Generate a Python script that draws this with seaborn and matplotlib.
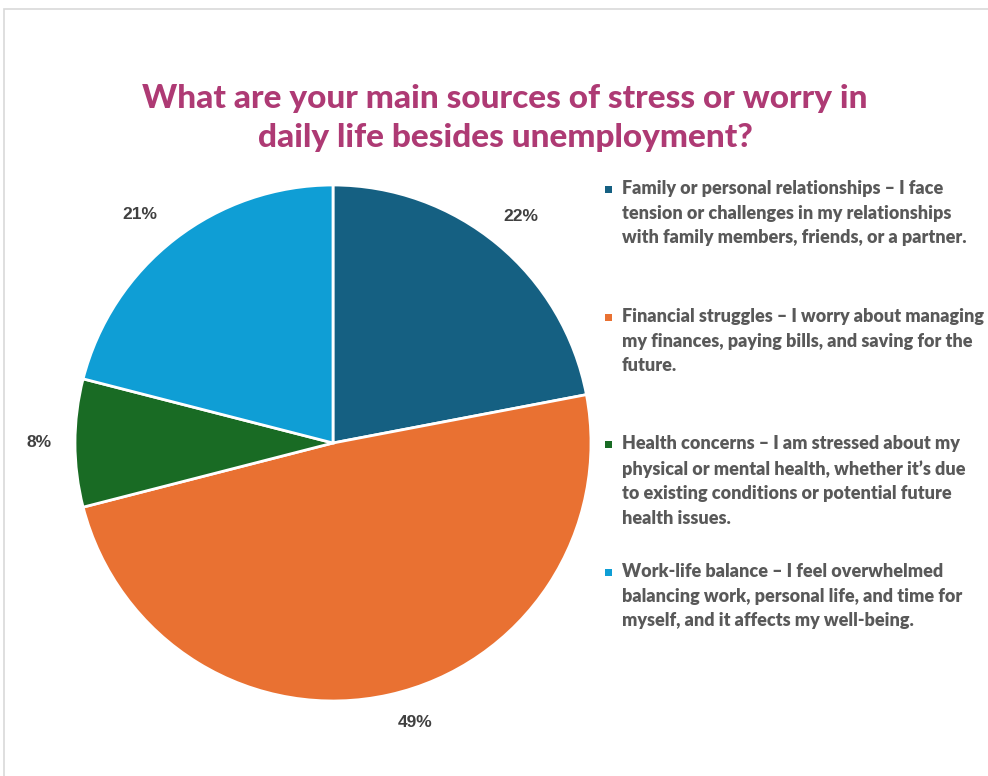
import matplotlib
matplotlib.use("Agg")
import matplotlib.pyplot as plt
from matplotlib.patches import Rectangle
import seaborn as sns

# Survey answers
categories = [
    "Family or personal relationships \u2013 I face\ntension or challenges in my relationships\nwith family members, friends, or a partner.",
    "Financial struggles \u2013 I worry about managing\nmy finances, paying bills, and saving for the\nfuture.",
    "Health concerns \u2013 I am stressed about my\nphysical or mental health, whether it\u2019s due\nto existing conditions or potential future\nhealth issues.",
    "Work-life balance \u2013 I feel overwhelmed\nbalancing work, personal life, and time for\nmyself, and it affects my well-being.",
]
shares = [22, 49, 8, 21]
colors = ["#156082", "#E97132", "#196B24", "#0F9ED5"]
title = "What are your main sources of stress or worry in\ndaily life besides unemployment?"

sns.set_theme(style="white")
palette = sns.color_palette(colors)

W, H = 988, 776
fig = plt.figure(figsize=(W / 100, H / 100), dpi=100)
fig.patch.set_facecolor("white")

# light frame around the chart area
fig.patches.append(Rectangle((4 / W, -0.05), 1.2, (H - 9) / H + 0.05,
                             transform=fig.transFigure, fill=False,
                             edgecolor="#d9d9d9", linewidth=1.2))

cx, cy, r = 333, 443, 258
ax = fig.add_axes([(cx - r) / W, (H - cy - r) / H, 2 * r / W, 2 * r / H])
wedges, texts = ax.pie(
    shares,
    labels=[f"{v}%" for v in shares],
    colors=palette,
    startangle=90,
    counterclock=False,
    labeldistance=1.14,
    wedgeprops=dict(edgecolor="white", linewidth=2),
    textprops=dict(fontsize=12.5, color="#404040", fontweight="bold",
                   family=["Liberation Sans Narrow", "Liberation Sans"]),
)
for t in texts:
    t.set_ha("center")
    t.set_va("center")
    t.set_clip_on(False)
# outside-end placement for the two labels that sit off the mid-angle ray
texts[1].set_position((0.318, -1.085))
texts[3].set_position((-0.748, 0.884))
ax.set_xlim(-1, 1)
ax.set_ylim(-1, 1)
ax.set_aspect("equal")
ax.axis("off")

fig.text(505 / W, 1 - 118 / H, title, ha="center", va="center",
         fontsize=24, fontweight="black", color="#AE3A74",
         family=["Lato", "DejaVu Sans"], linespacing=1.4)

# legend entries
first_line_y = [189, 317, 444, 572]
for label, col, y in zip(categories, colors, first_line_y):
    fig.patches.append(Rectangle((605 / W, 1 - (y + 4) / H), 7 / W, 7 / H,
                                 transform=fig.transFigure, facecolor=col,
                                 edgecolor="none"))
    fig.text(622 / W, 1 - (y - 9) / H, label, ha="left", va="top",
             fontsize=13, fontweight="heavy", color="#595959",
             family=["Lato", "DejaVu Sans"], linespacing=1.54)

fig.savefig("out.png", dpi=100, facecolor="white")
